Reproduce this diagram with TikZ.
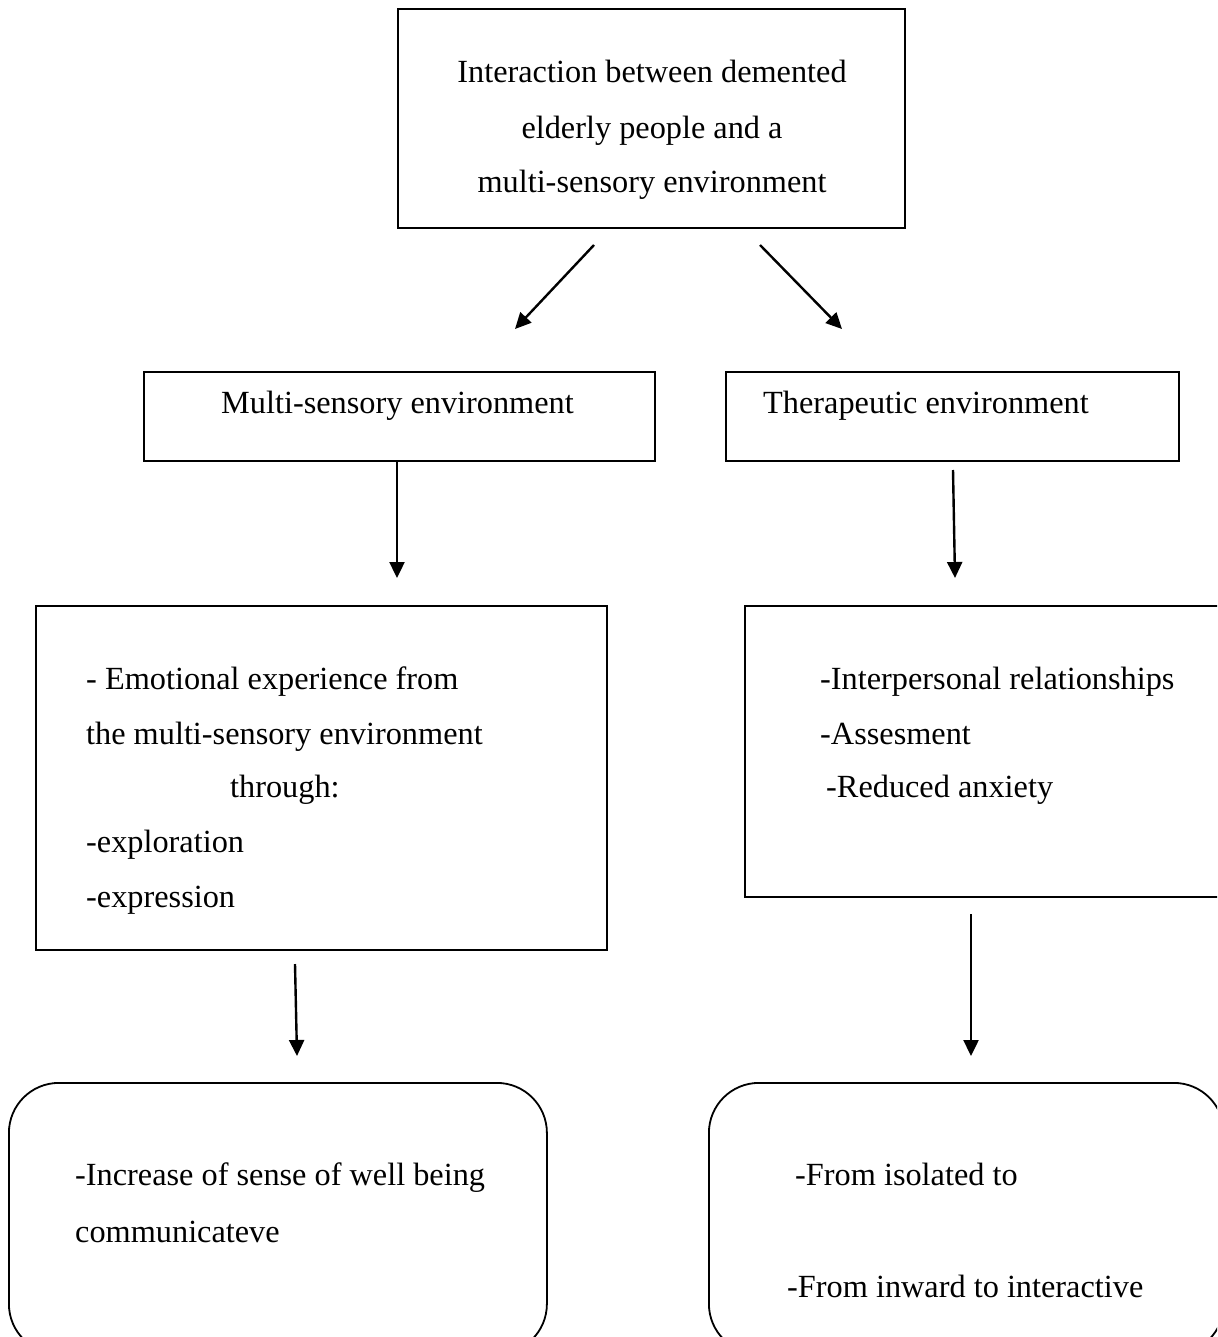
\documentclass[tikz,border=0pt]{standalone}
\usepackage{fontspec}
\setmainfont{Liberation Serif}
\usetikzlibrary{arrows.meta}
\begin{document}
\begin{tikzpicture}[x=1pt,y=-1pt,
  box/.style={draw=black,line width=2pt,rectangle,anchor=north west,inner sep=0pt},
  rbox/.style={draw=black,line width=1.8pt,rectangle,rounded corners=50pt,anchor=north west,inner sep=0pt},
  txt/.style={anchor=base west,inner sep=0pt,font=\fontsize{32.3}{38}\selectfont},
  ctxt/.style={anchor=base,inner sep=0pt,font=\fontsize{32.3}{38}\selectfont},
  arr/.style={line width=2.4pt,-{Triangle[length=16pt,width=15pt]}}]
\useasboundingbox (0,0) rectangle (1217,1337);
\clip (0,0) rectangle (1217,1337);
% boxes
\node[box,minimum width=507pt,minimum height=219pt] (top) at (397,8) {};
\node[box,minimum width=511pt,minimum height=89pt] (mse) at (143,371) {};
\node[box,minimum width=453pt,minimum height=89pt] (te) at (725,371) {};
\node[box,minimum width=571pt,minimum height=344pt] (emo) at (35,605) {};
\node[box,minimum width=560pt,minimum height=291pt] (inter) at (744,605) {};
\node[rbox,minimum width=538pt,minimum height=271pt] (well) at (8,1082) {};
\node[rbox,minimum width=515pt,minimum height=271pt] (iso) at (708,1082) {};
% texts
\node[ctxt] (t1) at (652,83) {Interaction between demented};
\node[ctxt] (t2) at (652,139) {elderly people and a};
\node[ctxt] (t3) at (652,193) {multi-sensory environment};
\node[txt] (m1) at (221,413) {Multi-sensory environment};
\node[txt] (th1) at (763,413) {Therapeutic environment};
\node[txt] (e1) at (86,689) {- Emotional experience from};
\node[txt] (e2) at (86,744) {the multi-sensory environment};
\node[txt] (e3) at (230,797) {through:};
\node[txt] (e4) at (86,852) {-exploration};
\node[txt] (e5) at (86,907) {-expression};
\node[txt] (i1) at (820,689) {-Interpersonal relationships};
\node[txt] (i2) at (820,744) {-Assesment};
\node[txt] (i3) at (826,797) {-Reduced anxiety};
\node[txt] (w1) at (75,1185) {-Increase of sense of well being};
\node[txt] (w2) at (75,1242) {communicateve};
\node[txt] (s1) at (795,1185) {-From isolated to};
\node[txt] (s2) at (787,1297) {-From inward to interactive};
% arrow ends
\coordinate (a1s) at (594,245); \coordinate (a1e) at (515,329);
\coordinate (a2s) at (760,245); \coordinate (a2e) at (842,329);
\coordinate (a3s) at (397,460); \coordinate (a3e) at (397,578);
\coordinate (a4s) at (953,470); \coordinate (a4e) at (955,578);
\coordinate (a5s) at (295,964); \coordinate (a5e) at (297,1056);
\coordinate (a6s) at (971,914); \coordinate (a6e) at (971,1056);
\draw[arr] (a1s) -- (a1e);
\draw[arr] (a2s) -- (a2e);
\draw[arr] (a3s) -- (a3e);
\draw[arr] (a4s) -- (a4e);
\draw[arr] (a5s) -- (a5e);
\draw[arr] (a6s) -- (a6e);
\end{tikzpicture}
\end{document}
